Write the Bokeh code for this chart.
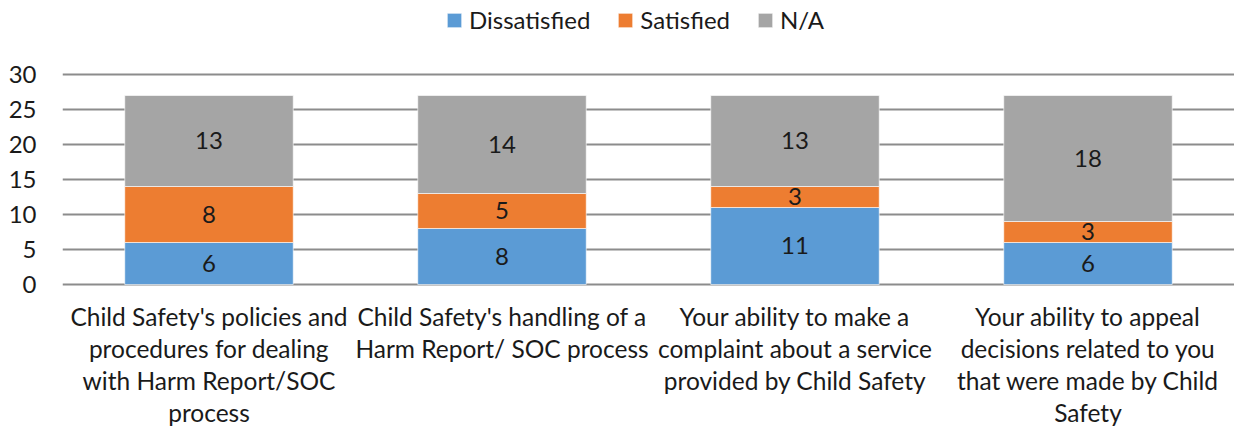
from bokeh.plotting import figure
from bokeh.models import ColumnDataSource, Legend, LegendItem, FactorRange, FixedTicker, LabelSet, Range1d
from bokeh.core.properties import value
from bokeh.embed import file_html
from bokeh.resources import INLINE

categories = [
    "Child Safety's policies and\nprocedures for dealing\nwith Harm Report/SOC\nprocess",
    "Child Safety's handling of a\nHarm Report/ SOC process",
    "Your ability to make a\ncomplaint about a service\nprovided by Child Safety",
    "Your ability to appeal\ndecisions related to you\nthat were made by Child\nSafety",
]
series = ["Dissatisfied", "Satisfied", "N/A"]
dissatisfied = [6, 8, 11, 6]
satisfied = [8, 5, 3, 3]
na = [13, 14, 13, 18]
y_ticks = [0, 5, 10, 15, 20, 25, 30]
colors = ["#5b9bd5", "#ed7d31", "#a5a5a5"]

FONT = "Lato"
FS = "24px"
CAT_FS = "24.5px"
TXT = "#1a1a1a"
GRID = "#8c8c8c"

src = ColumnDataSource(data=dict(cat=categories, Dissatisfied=dissatisfied, Satisfied=satisfied, NA=na))

# The frame spans the whole canvas height: headroom above 30 holds the legend,
# room below 0 holds the category labels (so nothing is clipped).
p = figure(x_range=FactorRange(*categories), y_range=Range1d(-20.857, 40.571), width=1234, height=430,
           output_backend="svg", toolbar_location=None,
           min_border_left=62, min_border_right=0, min_border_top=0, min_border_bottom=0)
p.outline_line_color = None
p.background_fill_color = "white"
p.border_fill_color = "white"

r = p.vbar_stack(["Dissatisfied", "Satisfied", "NA"], x="cat", width=0.575, source=src,
                 color=colors, line_color="white", line_width=1, line_alpha=0.6)

# value labels at segment centres
bottoms = [0] * len(categories)
for vals in [dissatisfied, satisfied, na]:
    mids = [b + v / 2 for b, v in zip(bottoms, vals)]
    lsrc = ColumnDataSource(data=dict(cat=categories, y=mids, t=[str(v) for v in vals]))
    p.add_layout(LabelSet(x="cat", y="y", text="t", source=lsrc, text_align="center",
                          text_baseline="middle", text_font=value(FONT), text_font_size=value(FS),
                          text_color=TXT))
    bottoms = [b + v for b, v in zip(bottoms, vals)]

# category labels below the axis, one LabelSet per text line
split = [c.split("\n") for c in categories]
for k in range(max(len(s) for s in split)):
    cats = [c for c, s in zip(categories, split) if len(s) > k]
    txts = [s[k] for s in split if len(s) > k]
    csrc = ColumnDataSource(data=dict(cat=cats, y=[0] * len(cats), t=txts))
    p.add_layout(LabelSet(x="cat", y="y", text="t", source=csrc, text_align="center",
                          text_baseline="alphabetic", y_offset=-(42 + 32 * k),
                          text_font=value(FONT), text_font_size=value(CAT_FS), text_color=TXT))

p.xaxis.visible = False
p.xgrid.grid_line_color = None
p.ygrid.ticker = FixedTicker(ticks=y_ticks)
p.ygrid.grid_line_color = GRID
p.ygrid.grid_line_width = 2
p.yaxis.ticker = FixedTicker(ticks=y_ticks)
p.yaxis.axis_line_color = None
p.yaxis.major_tick_line_color = None
p.yaxis.minor_tick_line_color = None
p.yaxis.major_tick_out = 0
p.yaxis.major_tick_in = 0
p.yaxis.minor_tick_out = 0
p.yaxis.major_label_text_font = FONT
p.yaxis.major_label_text_font_size = FS
p.yaxis.major_label_text_color = TXT
p.yaxis.major_label_standoff = 26

legend = Legend(items=[LegendItem(label=s, renderers=[rr]) for s, rr in zip(series, r)],
                orientation="horizontal", location=(383, 396), padding=0, margin=0,
                spacing=26, label_standoff=6, glyph_width=18, glyph_height=18,
                label_text_font=FONT, label_text_font_size=FS, label_text_color=TXT,
                border_line_color=None, background_fill_alpha=0)
p.add_layout(legend, "center")

open("out.html", "w").write(file_html(p, INLINE))
